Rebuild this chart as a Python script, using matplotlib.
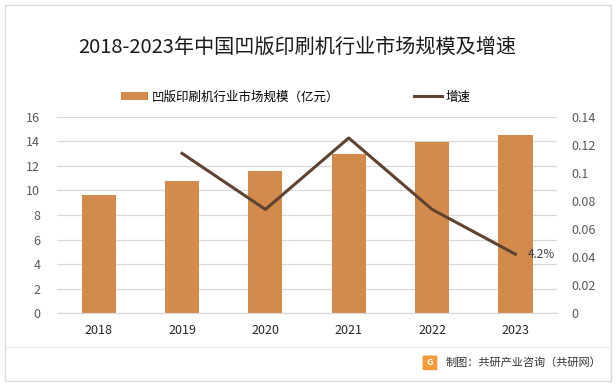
import matplotlib
matplotlib.use("Agg")
import matplotlib.pyplot as plt
from matplotlib.patches import Rectangle, FancyBboxPatch
from matplotlib.lines import Line2D

plt.rcParams['font.family'] = ['Noto Sans CJK SC', 'DejaVu Sans']

years = ["2018", "2019", "2020", "2021", "2022", "2023"]
market_size = [9.66, 10.8, 11.58, 13.0, 13.96, 14.56]
growth_years = ["2019", "2020", "2021", "2022", "2023"]
growth = [0.114, 0.074, 0.125, 0.074, 0.042]

bar_color = "#D38B4D"
line_color = "#5E4330"
tick_color = "#595959"

fig = plt.figure(figsize=(6.16, 3.86), dpi=100)
ax = fig.add_axes([0.0925, 0.189, 0.812, 0.508])
ax2 = ax.twinx()

x = list(range(len(years)))
bars = ax.bar(x, market_size, width=0.41, color=bar_color, zorder=2,
              label="凹版印刷机行业市场规模（亿元）")
gx = [years.index(y) for y in growth_years]
ln, = ax2.plot(gx, growth, color=line_color, linewidth=2.2, label="增速", zorder=3)
ax2.annotate("4.2%", (gx[-1], growth[-1]), xytext=(9, 0), textcoords="offset points",
             va="center", ha="left", fontsize=8.5, color="#404040")

ax.set_xlim(-0.5, len(years) - 0.5)
ax.set_ylim(0, 16)
ax.set_yticks(range(0, 17, 2))
ax2.set_ylim(0, 0.14)
ax2.set_yticks([0, 0.02, 0.04, 0.06, 0.08, 0.1, 0.12, 0.14])
ax2.set_yticklabels(["0", "0.02", "0.04", "0.06", "0.08", "0.1", "0.12", "0.14"])
ax.set_xticks(x)
ax.set_xticklabels(years)

ax.grid(axis="y", color="#D9D9D9", linewidth=0.9, zorder=0)
ax.set_axisbelow(True)
for a in (ax, ax2):
    for s in ("top", "left", "right"):
        a.spines[s].set_visible(False)
    a.spines["bottom"].set_color("#D9D9D9")
    a.tick_params(length=0, labelsize=9, colors=tick_color)
ax.tick_params(axis="x", pad=8, colors="#262626")
ax.tick_params(axis="y", pad=12)
ax2.tick_params(axis="y", pad=10)

fig.text(0.483, 0.876, "2018-2023年中国凹版印刷机行业市场规模及增速",
         ha="center", va="center", fontsize=14.5, color="#1a1a1a")

fig.legend([bars, ln], [bars.get_label(), ln.get_label()], loc="center",
           bbox_to_anchor=(0.48, 0.749), ncol=2, frameon=False, fontsize=9,
           columnspacing=6, handlelength=2.2, handletextpad=0.3)

# outer frame and footer
fig.patches.append(Rectangle((0.008, 0.012), 0.984, 0.976, transform=fig.transFigure,
                             fill=False, edgecolor="#D9D9D9", linewidth=1))
fig.lines.append(Line2D([0.008, 0.992], [0.101, 0.101], transform=fig.transFigure,
                        color="#E6E6E6", linewidth=0.8))
fig.patches.append(FancyBboxPatch((0.688, 0.043), 0.02, 0.034, boxstyle="round,pad=0.002",
                                  transform=fig.transFigure, facecolor="#F39A3A",
                                  edgecolor="none"))
fig.text(0.698, 0.06, "G", ha="center", va="center", fontsize=6.5, color="white",
         fontweight="bold")
fig.text(0.724, 0.06, "制图：共研产业咨询（共研网）", ha="left", va="center",
         fontsize=8, color="#333333")

fig.savefig("out.png", dpi=100)
